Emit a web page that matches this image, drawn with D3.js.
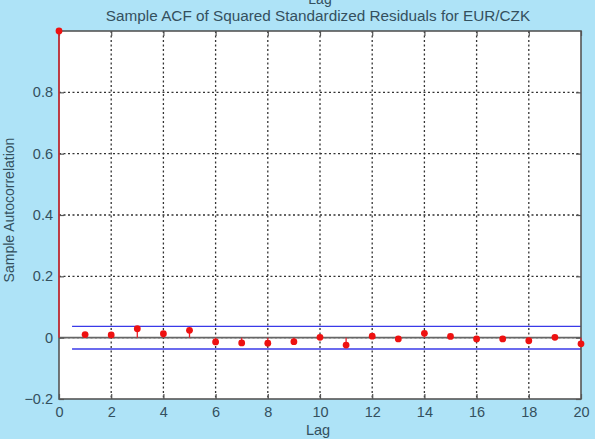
<!DOCTYPE html>
<html>
<head>
<meta charset="utf-8">
<script src="https://cdn.jsdelivr.net/npm/d3@7"></script>
<style>
  body { margin: 0; background: #aee3f7; }
  text { font-family: "Liberation Sans", Arial, sans-serif; }
</style>
</head>
<body>
<div id="chart"></div>
<script>
// ACF values
const lags = d3.range(0, 21);
const acf = [1, 0.010, 0.009, 0.029, 0.013, 0.024, -0.014, -0.017, -0.018, -0.013,
  0.001, -0.024, 0.005, -0.004, 0.014, 0.004, -0.004, -0.004, -0.010, 0.001, -0.020];
const bound = 0.037;
const xTicks = d3.range(0, 21, 2);
const yTicks = [-0.2, 0, 0.2, 0.4, 0.6, 0.8];

const width = 595, height = 439;
const margin = {top: 31, right: 14, bottom: 40, left: 59};
const textColor = "#34505e";

const svg = d3.select("#chart").append("svg")
  .attr("width", width)
  .attr("height", height);

svg.append("rect")
  .attr("width", width)
  .attr("height", height)
  .attr("fill", "#aee3f7");

const x = d3.scaleLinear().domain([0, 20]).range([margin.left, width - margin.right]);
const y = d3.scaleLinear().domain([-0.2, 1]).range([height - margin.bottom, margin.top]);

// plot area
svg.append("rect")
  .attr("x", x(0)).attr("y", y(1))
  .attr("width", x(20) - x(0)).attr("height", y(-0.2) - y(1))
  .attr("fill", "white");

// grid
svg.append("g")
  .selectAll("line")
  .data(xTicks.slice(1, -1))
  .join("line")
  .attr("x1", d => x(d)).attr("x2", d => x(d))
  .attr("y1", y(1)).attr("y2", y(-0.2))
  .attr("stroke", "#333").attr("stroke-width", 1.3)
  .attr("stroke-dasharray", "2,2.5");

svg.append("g")
  .selectAll("line")
  .data(yTicks.slice(1))
  .join("line")
  .attr("x1", x(0)).attr("x2", x(20))
  .attr("y1", d => y(d)).attr("y2", d => y(d))
  .attr("stroke", "#333").attr("stroke-width", 1.3)
  .attr("stroke-dasharray", "2,2.5");

// baseline
svg.append("line")
  .attr("x1", x(0)).attr("x2", x(20))
  .attr("y1", y(0)).attr("y2", y(0))
  .attr("stroke", "#666").attr("stroke-width", 1.6);

// confidence bounds
svg.append("g")
  .selectAll("line")
  .data([bound, -bound])
  .join("line")
  .attr("x1", x(0.5)).attr("x2", x(20))
  .attr("y1", d => y(d)).attr("y2", d => y(d))
  .attr("stroke", "#3a3ae8").attr("stroke-width", 1.3);

// frame
svg.append("rect")
  .attr("x", x(0)).attr("y", y(1))
  .attr("width", x(20) - x(0)).attr("height", y(-0.2) - y(1))
  .attr("fill", "none")
  .attr("stroke", "#555").attr("stroke-width", 1.6);

// axes (ticks inside)
const xAxis = svg.append("g")
  .attr("transform", `translate(0,${y(-0.2)})`)
  .call(d3.axisBottom(x).tickValues(xTicks).tickSize(-5).tickPadding(8).tickFormat(d3.format("d")));
const xTop = svg.append("g")
  .attr("transform", `translate(0,${y(1)})`)
  .call(d3.axisTop(x).tickValues(xTicks).tickSize(-5).tickFormat(""));
const yAxis = svg.append("g")
  .attr("transform", `translate(${x(0)},0)`)
  .call(d3.axisLeft(y).tickValues(yTicks).tickSize(-5).tickPadding(6).tickFormat(d => d === 0 ? "0" : d3.format(".1f")(d)));
const yRight = svg.append("g")
  .attr("transform", `translate(${x(20)},0)`)
  .call(d3.axisRight(y).tickValues(yTicks).tickSize(-5).tickFormat(""));

[xAxis, xTop, yAxis, yRight].forEach(a => {
  a.select(".domain").remove();
  a.selectAll(".tick line").attr("stroke", "#555").attr("stroke-width", 1.2);
  a.selectAll("text").attr("fill", textColor).style("font-size", "14.5px");
});

// stems
svg.append("g")
  .selectAll("line")
  .data(lags)
  .join("line")
  .attr("x1", d => x(d)).attr("x2", d => x(d))
  .attr("y1", y(0)).attr("y2", d => y(acf[d]))
  .attr("stroke", "#e8202a").attr("stroke-width", 1.3);

svg.append("g")
  .selectAll("circle")
  .data(lags)
  .join("circle")
  .attr("cx", d => x(d))
  .attr("cy", d => y(acf[d]))
  .attr("r", 3.4)
  .attr("fill", "#ee1111");

// labels
svg.append("text")
  .attr("x", x(10)).attr("y", 4)
  .attr("text-anchor", "middle")
  .attr("fill", textColor).style("font-size", "14px")
  .text("Lag");

svg.append("text")
  .attr("x", 318).attr("y", 21)
  .attr("text-anchor", "middle")
  .attr("fill", textColor).style("font-size", "15.3px")
  .text("Sample ACF of Squared Standardized Residuals for EUR/CZK");

svg.append("text")
  .attr("x", 318).attr("y", 435)
  .attr("text-anchor", "middle")
  .attr("fill", textColor).style("font-size", "14.5px")
  .text("Lag");

svg.append("text")
  .attr("transform", `translate(14,210) rotate(-90)`)
  .attr("text-anchor", "middle")
  .attr("fill", textColor).style("font-size", "14px")
  .text("Sample Autocorrelation");
</script>
</body>
</html>
